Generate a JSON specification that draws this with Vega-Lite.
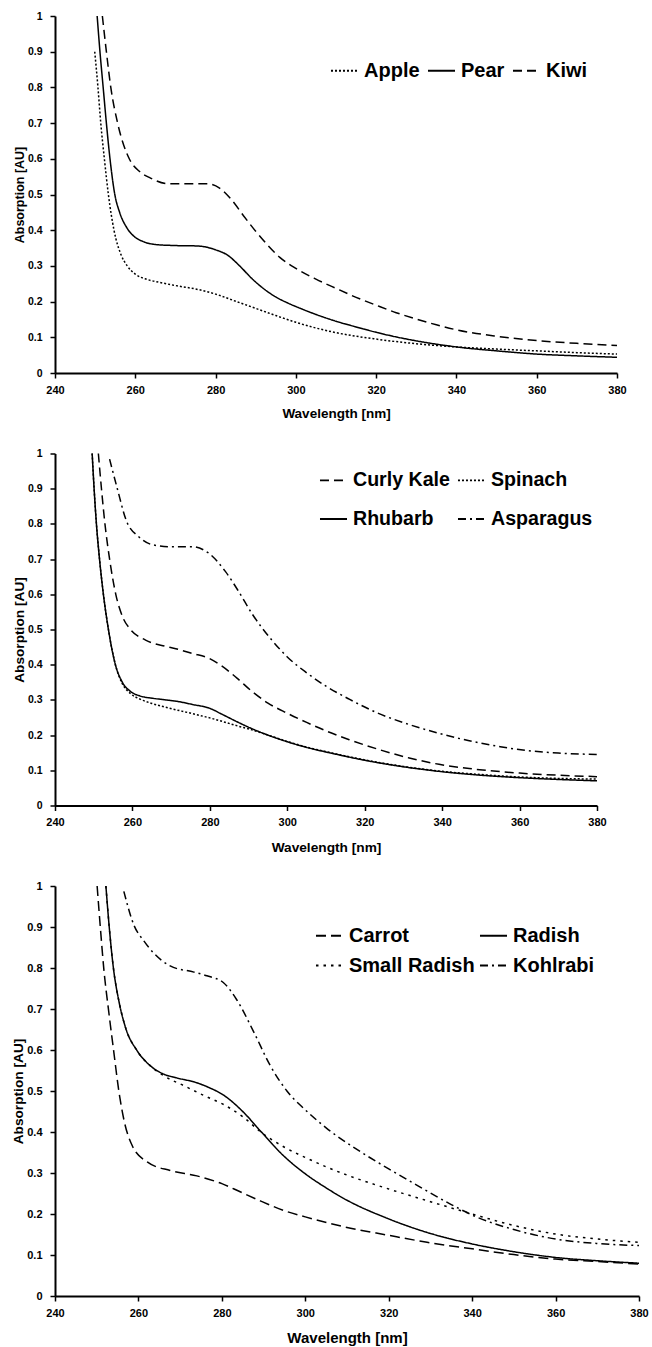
{
  "$schema": "https://vega.github.io/schema/vega-lite/v6.json",
  "background": "white",
  "padding": {"left": 11, "top": 11, "right": 5, "bottom": 2},
  "spacing": 80.5,
  "bounds": "flush",
  "resolve": {"scale": {"strokeDash": "independent"}, "legend": {"strokeDash": "independent"}},
  "config": {
    "view": {"stroke": null},
    "font": "Liberation Sans",
    "axis": {
      "grid": false,
      "domainColor": "black",
      "domainWidth": 2,
      "tickColor": "black",
      "tickWidth": 1.5,
      "tickSize": 5,
      "labelFont": "Liberation Sans",
      "labelFontWeight": "bold",
      "labelColor": "black",
      "labelFontSize": 11,
      "titleFont": "Liberation Sans",
      "titleFontWeight": "bold",
      "titleColor": "black"
    },
    "axisX": {"labelFlush": false, "labelPadding": 6, "titlePadding": 11},
    "axisY": {"labelPadding": 8, "titlePadding": 1},
    "legend": {
      "orient": "none",
      "symbolType": "stroke",
      "symbolSize": 730,
      "symbolStrokeWidth": 1.8,
      "symbolStrokeColor": "black",
      "labelFont": "Liberation Sans",
      "labelFontWeight": "bold",
      "labelFontSize": 20,
      "labelColor": "black",
      "labelOffset": 5,
      "labelLimit": 300
    }
  },
  "datasets": {
    "p1": [
      {"sample": "Apple", "wavelength": 249.9, "absorption": 0.9},
      {"sample": "Apple", "wavelength": 250.7, "absorption": 0.8},
      {"sample": "Apple", "wavelength": 251.4, "absorption": 0.7},
      {"sample": "Apple", "wavelength": 252.3, "absorption": 0.6},
      {"sample": "Apple", "wavelength": 253.3, "absorption": 0.5},
      {"sample": "Apple", "wavelength": 254.7, "absorption": 0.4},
      {"sample": "Apple", "wavelength": 256.5, "absorption": 0.33},
      {"sample": "Apple", "wavelength": 258, "absorption": 0.3},
      {"sample": "Apple", "wavelength": 260, "absorption": 0.277},
      {"sample": "Apple", "wavelength": 263, "absorption": 0.262},
      {"sample": "Apple", "wavelength": 266, "absorption": 0.254},
      {"sample": "Apple", "wavelength": 270, "absorption": 0.245},
      {"sample": "Apple", "wavelength": 276, "absorption": 0.233},
      {"sample": "Apple", "wavelength": 280, "absorption": 0.221},
      {"sample": "Apple", "wavelength": 285, "absorption": 0.201},
      {"sample": "Apple", "wavelength": 290, "absorption": 0.181},
      {"sample": "Apple", "wavelength": 295, "absorption": 0.161},
      {"sample": "Apple", "wavelength": 300, "absorption": 0.142},
      {"sample": "Apple", "wavelength": 305, "absorption": 0.126},
      {"sample": "Apple", "wavelength": 310, "absorption": 0.113},
      {"sample": "Apple", "wavelength": 320, "absorption": 0.095},
      {"sample": "Apple", "wavelength": 330, "absorption": 0.082},
      {"sample": "Apple", "wavelength": 340, "absorption": 0.073},
      {"sample": "Apple", "wavelength": 350, "absorption": 0.067},
      {"sample": "Apple", "wavelength": 360, "absorption": 0.062},
      {"sample": "Apple", "wavelength": 370, "absorption": 0.057},
      {"sample": "Apple", "wavelength": 380, "absorption": 0.053},
      {"sample": "Pear", "wavelength": 250.5, "absorption": 1.0},
      {"sample": "Pear", "wavelength": 251.2, "absorption": 0.9},
      {"sample": "Pear", "wavelength": 252, "absorption": 0.8},
      {"sample": "Pear", "wavelength": 252.8, "absorption": 0.7},
      {"sample": "Pear", "wavelength": 253.7, "absorption": 0.6},
      {"sample": "Pear", "wavelength": 254.9, "absorption": 0.5},
      {"sample": "Pear", "wavelength": 256.1, "absorption": 0.45},
      {"sample": "Pear", "wavelength": 258, "absorption": 0.405},
      {"sample": "Pear", "wavelength": 260, "absorption": 0.38},
      {"sample": "Pear", "wavelength": 262, "absorption": 0.368},
      {"sample": "Pear", "wavelength": 265, "absorption": 0.36},
      {"sample": "Pear", "wavelength": 270, "absorption": 0.357},
      {"sample": "Pear", "wavelength": 275, "absorption": 0.356},
      {"sample": "Pear", "wavelength": 278, "absorption": 0.352},
      {"sample": "Pear", "wavelength": 280, "absorption": 0.345},
      {"sample": "Pear", "wavelength": 283, "absorption": 0.33},
      {"sample": "Pear", "wavelength": 286, "absorption": 0.3},
      {"sample": "Pear", "wavelength": 289, "absorption": 0.265},
      {"sample": "Pear", "wavelength": 292, "absorption": 0.236},
      {"sample": "Pear", "wavelength": 295, "absorption": 0.213},
      {"sample": "Pear", "wavelength": 298, "absorption": 0.196},
      {"sample": "Pear", "wavelength": 302, "absorption": 0.177},
      {"sample": "Pear", "wavelength": 306, "absorption": 0.16},
      {"sample": "Pear", "wavelength": 310, "absorption": 0.145},
      {"sample": "Pear", "wavelength": 315, "absorption": 0.129},
      {"sample": "Pear", "wavelength": 320, "absorption": 0.114},
      {"sample": "Pear", "wavelength": 325, "absorption": 0.101},
      {"sample": "Pear", "wavelength": 330, "absorption": 0.09},
      {"sample": "Pear", "wavelength": 340, "absorption": 0.073},
      {"sample": "Pear", "wavelength": 350, "absorption": 0.062},
      {"sample": "Pear", "wavelength": 360, "absorption": 0.053},
      {"sample": "Pear", "wavelength": 370, "absorption": 0.048},
      {"sample": "Pear", "wavelength": 380, "absorption": 0.044},
      {"sample": "Kiwi", "wavelength": 251.8, "absorption": 1.0},
      {"sample": "Kiwi", "wavelength": 252.8, "absorption": 0.9},
      {"sample": "Kiwi", "wavelength": 253.9, "absorption": 0.8},
      {"sample": "Kiwi", "wavelength": 255.6, "absorption": 0.7},
      {"sample": "Kiwi", "wavelength": 258.5, "absorption": 0.6},
      {"sample": "Kiwi", "wavelength": 261, "absorption": 0.565},
      {"sample": "Kiwi", "wavelength": 263.8, "absorption": 0.546},
      {"sample": "Kiwi", "wavelength": 268.4, "absorption": 0.53},
      {"sample": "Kiwi", "wavelength": 273, "absorption": 0.53},
      {"sample": "Kiwi", "wavelength": 278, "absorption": 0.53},
      {"sample": "Kiwi", "wavelength": 281, "absorption": 0.518},
      {"sample": "Kiwi", "wavelength": 284, "absorption": 0.485},
      {"sample": "Kiwi", "wavelength": 287, "absorption": 0.44},
      {"sample": "Kiwi", "wavelength": 290, "absorption": 0.397},
      {"sample": "Kiwi", "wavelength": 293, "absorption": 0.358},
      {"sample": "Kiwi", "wavelength": 296, "absorption": 0.324},
      {"sample": "Kiwi", "wavelength": 300, "absorption": 0.293},
      {"sample": "Kiwi", "wavelength": 305, "absorption": 0.263},
      {"sample": "Kiwi", "wavelength": 310, "absorption": 0.237},
      {"sample": "Kiwi", "wavelength": 315, "absorption": 0.212},
      {"sample": "Kiwi", "wavelength": 320, "absorption": 0.19},
      {"sample": "Kiwi", "wavelength": 325, "absorption": 0.169},
      {"sample": "Kiwi", "wavelength": 330, "absorption": 0.151},
      {"sample": "Kiwi", "wavelength": 335, "absorption": 0.135},
      {"sample": "Kiwi", "wavelength": 340, "absorption": 0.121},
      {"sample": "Kiwi", "wavelength": 350, "absorption": 0.103},
      {"sample": "Kiwi", "wavelength": 360, "absorption": 0.091},
      {"sample": "Kiwi", "wavelength": 370, "absorption": 0.083},
      {"sample": "Kiwi", "wavelength": 380, "absorption": 0.077}
    ],
    "p2": [
      {"sample": "Rhubarb", "wavelength": 249.6, "absorption": 1.0},
      {"sample": "Rhubarb", "wavelength": 250.1, "absorption": 0.9},
      {"sample": "Rhubarb", "wavelength": 250.7, "absorption": 0.8},
      {"sample": "Rhubarb", "wavelength": 251.5, "absorption": 0.7},
      {"sample": "Rhubarb", "wavelength": 252.5, "absorption": 0.6},
      {"sample": "Rhubarb", "wavelength": 253.8, "absorption": 0.5},
      {"sample": "Rhubarb", "wavelength": 255.6, "absorption": 0.4},
      {"sample": "Rhubarb", "wavelength": 257.3, "absorption": 0.352},
      {"sample": "Rhubarb", "wavelength": 259.5, "absorption": 0.324},
      {"sample": "Rhubarb", "wavelength": 262, "absorption": 0.311},
      {"sample": "Rhubarb", "wavelength": 265, "absorption": 0.305},
      {"sample": "Rhubarb", "wavelength": 268.6, "absorption": 0.3},
      {"sample": "Rhubarb", "wavelength": 272, "absorption": 0.295},
      {"sample": "Rhubarb", "wavelength": 275.5, "absorption": 0.287},
      {"sample": "Rhubarb", "wavelength": 280, "absorption": 0.276},
      {"sample": "Rhubarb", "wavelength": 283, "absorption": 0.26},
      {"sample": "Rhubarb", "wavelength": 287, "absorption": 0.238},
      {"sample": "Rhubarb", "wavelength": 290.5, "absorption": 0.22},
      {"sample": "Rhubarb", "wavelength": 295, "absorption": 0.2},
      {"sample": "Rhubarb", "wavelength": 300, "absorption": 0.181},
      {"sample": "Rhubarb", "wavelength": 305, "absorption": 0.165},
      {"sample": "Rhubarb", "wavelength": 310.8, "absorption": 0.15},
      {"sample": "Rhubarb", "wavelength": 319.8, "absorption": 0.129},
      {"sample": "Rhubarb", "wavelength": 330, "absorption": 0.11},
      {"sample": "Rhubarb", "wavelength": 340, "absorption": 0.096},
      {"sample": "Rhubarb", "wavelength": 350, "absorption": 0.086},
      {"sample": "Rhubarb", "wavelength": 360, "absorption": 0.079},
      {"sample": "Rhubarb", "wavelength": 370, "absorption": 0.074},
      {"sample": "Rhubarb", "wavelength": 380, "absorption": 0.07},
      {"sample": "Spinach", "wavelength": 249.6, "absorption": 1.0},
      {"sample": "Spinach", "wavelength": 250.1, "absorption": 0.9},
      {"sample": "Spinach", "wavelength": 250.7, "absorption": 0.8},
      {"sample": "Spinach", "wavelength": 251.5, "absorption": 0.7},
      {"sample": "Spinach", "wavelength": 252.5, "absorption": 0.6},
      {"sample": "Spinach", "wavelength": 253.8, "absorption": 0.5},
      {"sample": "Spinach", "wavelength": 255.6, "absorption": 0.4},
      {"sample": "Spinach", "wavelength": 257.3, "absorption": 0.348},
      {"sample": "Spinach", "wavelength": 259.5, "absorption": 0.318},
      {"sample": "Spinach", "wavelength": 262, "absorption": 0.302},
      {"sample": "Spinach", "wavelength": 265, "absorption": 0.29},
      {"sample": "Spinach", "wavelength": 268.6, "absorption": 0.279},
      {"sample": "Spinach", "wavelength": 275.5, "absorption": 0.261},
      {"sample": "Spinach", "wavelength": 280.6, "absorption": 0.247},
      {"sample": "Spinach", "wavelength": 287.5, "absorption": 0.225},
      {"sample": "Spinach", "wavelength": 290.5, "absorption": 0.216},
      {"sample": "Spinach", "wavelength": 295, "absorption": 0.2},
      {"sample": "Spinach", "wavelength": 300, "absorption": 0.182},
      {"sample": "Spinach", "wavelength": 305, "absorption": 0.166},
      {"sample": "Spinach", "wavelength": 310.8, "absorption": 0.151},
      {"sample": "Spinach", "wavelength": 319.8, "absorption": 0.13},
      {"sample": "Spinach", "wavelength": 330, "absorption": 0.111},
      {"sample": "Spinach", "wavelength": 340, "absorption": 0.097},
      {"sample": "Spinach", "wavelength": 350, "absorption": 0.088},
      {"sample": "Spinach", "wavelength": 360, "absorption": 0.081},
      {"sample": "Spinach", "wavelength": 370, "absorption": 0.077},
      {"sample": "Spinach", "wavelength": 380, "absorption": 0.075},
      {"sample": "Curly Kale", "wavelength": 251.2, "absorption": 1.0},
      {"sample": "Curly Kale", "wavelength": 252, "absorption": 0.9},
      {"sample": "Curly Kale", "wavelength": 252.9, "absorption": 0.8},
      {"sample": "Curly Kale", "wavelength": 254.1, "absorption": 0.7},
      {"sample": "Curly Kale", "wavelength": 255.7, "absorption": 0.6},
      {"sample": "Curly Kale", "wavelength": 257.5, "absorption": 0.535},
      {"sample": "Curly Kale", "wavelength": 259.5, "absorption": 0.5},
      {"sample": "Curly Kale", "wavelength": 263.4, "absorption": 0.47},
      {"sample": "Curly Kale", "wavelength": 268.6, "absorption": 0.452},
      {"sample": "Curly Kale", "wavelength": 272, "absorption": 0.443},
      {"sample": "Curly Kale", "wavelength": 275.5, "absorption": 0.432},
      {"sample": "Curly Kale", "wavelength": 279.8, "absorption": 0.418},
      {"sample": "Curly Kale", "wavelength": 283, "absorption": 0.397},
      {"sample": "Curly Kale", "wavelength": 287, "absorption": 0.362},
      {"sample": "Curly Kale", "wavelength": 291, "absorption": 0.323},
      {"sample": "Curly Kale", "wavelength": 295, "absorption": 0.291},
      {"sample": "Curly Kale", "wavelength": 300, "absorption": 0.262},
      {"sample": "Curly Kale", "wavelength": 305, "absorption": 0.236},
      {"sample": "Curly Kale", "wavelength": 310, "absorption": 0.212},
      {"sample": "Curly Kale", "wavelength": 316, "absorption": 0.187},
      {"sample": "Curly Kale", "wavelength": 323.7, "absorption": 0.159},
      {"sample": "Curly Kale", "wavelength": 331.5, "absorption": 0.135},
      {"sample": "Curly Kale", "wavelength": 339.2, "absorption": 0.117},
      {"sample": "Curly Kale", "wavelength": 347, "absorption": 0.105},
      {"sample": "Curly Kale", "wavelength": 360, "absorption": 0.092},
      {"sample": "Curly Kale", "wavelength": 370, "absorption": 0.086},
      {"sample": "Curly Kale", "wavelength": 380, "absorption": 0.082},
      {"sample": "Asparagus", "wavelength": 254.1, "absorption": 0.984},
      {"sample": "Asparagus", "wavelength": 256.1, "absorption": 0.9},
      {"sample": "Asparagus", "wavelength": 258.4, "absorption": 0.81},
      {"sample": "Asparagus", "wavelength": 261.7, "absorption": 0.763},
      {"sample": "Asparagus", "wavelength": 265.1, "absorption": 0.741},
      {"sample": "Asparagus", "wavelength": 270.3, "absorption": 0.735},
      {"sample": "Asparagus", "wavelength": 275.5, "absorption": 0.735},
      {"sample": "Asparagus", "wavelength": 279.8, "absorption": 0.716},
      {"sample": "Asparagus", "wavelength": 284, "absorption": 0.665},
      {"sample": "Asparagus", "wavelength": 287.5, "absorption": 0.607},
      {"sample": "Asparagus", "wavelength": 291, "absorption": 0.543},
      {"sample": "Asparagus", "wavelength": 296, "absorption": 0.47},
      {"sample": "Asparagus", "wavelength": 300, "absorption": 0.422},
      {"sample": "Asparagus", "wavelength": 305, "absorption": 0.377},
      {"sample": "Asparagus", "wavelength": 310, "absorption": 0.339},
      {"sample": "Asparagus", "wavelength": 316, "absorption": 0.302},
      {"sample": "Asparagus", "wavelength": 323.7, "absorption": 0.261},
      {"sample": "Asparagus", "wavelength": 331.5, "absorption": 0.23},
      {"sample": "Asparagus", "wavelength": 339.2, "absorption": 0.205},
      {"sample": "Asparagus", "wavelength": 347, "absorption": 0.184},
      {"sample": "Asparagus", "wavelength": 355, "absorption": 0.167},
      {"sample": "Asparagus", "wavelength": 362, "absorption": 0.156},
      {"sample": "Asparagus", "wavelength": 370, "absorption": 0.149},
      {"sample": "Asparagus", "wavelength": 380, "absorption": 0.145}
    ],
    "p3": [
      {"sample": "Carrot", "wavelength": 250.1, "absorption": 1.0},
      {"sample": "Carrot", "wavelength": 250.9, "absorption": 0.895},
      {"sample": "Carrot", "wavelength": 251.7, "absorption": 0.798},
      {"sample": "Carrot", "wavelength": 252.9, "absorption": 0.692},
      {"sample": "Carrot", "wavelength": 254.1, "absorption": 0.595},
      {"sample": "Carrot", "wavelength": 255.3, "absorption": 0.5},
      {"sample": "Carrot", "wavelength": 256.6, "absorption": 0.426},
      {"sample": "Carrot", "wavelength": 258.5, "absorption": 0.367},
      {"sample": "Carrot", "wavelength": 262.1, "absorption": 0.327},
      {"sample": "Carrot", "wavelength": 267.6, "absorption": 0.306},
      {"sample": "Carrot", "wavelength": 274, "absorption": 0.293},
      {"sample": "Carrot", "wavelength": 280, "absorption": 0.274},
      {"sample": "Carrot", "wavelength": 284, "absorption": 0.256},
      {"sample": "Carrot", "wavelength": 289.2, "absorption": 0.232},
      {"sample": "Carrot", "wavelength": 295, "absorption": 0.208},
      {"sample": "Carrot", "wavelength": 300, "absorption": 0.193},
      {"sample": "Carrot", "wavelength": 309.2, "absorption": 0.169},
      {"sample": "Carrot", "wavelength": 320, "absorption": 0.148},
      {"sample": "Carrot", "wavelength": 329.2, "absorption": 0.131},
      {"sample": "Carrot", "wavelength": 340, "absorption": 0.115},
      {"sample": "Carrot", "wavelength": 350, "absorption": 0.101},
      {"sample": "Carrot", "wavelength": 360, "absorption": 0.09},
      {"sample": "Carrot", "wavelength": 370, "absorption": 0.084},
      {"sample": "Carrot", "wavelength": 380, "absorption": 0.078},
      {"sample": "Radish", "wavelength": 252.2, "absorption": 1.0},
      {"sample": "Radish", "wavelength": 253, "absorption": 0.9},
      {"sample": "Radish", "wavelength": 254, "absorption": 0.8},
      {"sample": "Radish", "wavelength": 255.3, "absorption": 0.72},
      {"sample": "Radish", "wavelength": 256.9, "absorption": 0.655},
      {"sample": "Radish", "wavelength": 259.7, "absorption": 0.598},
      {"sample": "Radish", "wavelength": 262.8, "absorption": 0.562},
      {"sample": "Radish", "wavelength": 266.1, "absorption": 0.541},
      {"sample": "Radish", "wavelength": 269.2, "absorption": 0.532},
      {"sample": "Radish", "wavelength": 274, "absorption": 0.52},
      {"sample": "Radish", "wavelength": 277, "absorption": 0.508},
      {"sample": "Radish", "wavelength": 280.4, "absorption": 0.49},
      {"sample": "Radish", "wavelength": 285.2, "absorption": 0.448},
      {"sample": "Radish", "wavelength": 289.2, "absorption": 0.403},
      {"sample": "Radish", "wavelength": 294.8, "absorption": 0.342},
      {"sample": "Radish", "wavelength": 300.4, "absorption": 0.295},
      {"sample": "Radish", "wavelength": 304.8, "absorption": 0.265},
      {"sample": "Radish", "wavelength": 309.2, "absorption": 0.238},
      {"sample": "Radish", "wavelength": 320, "absorption": 0.188},
      {"sample": "Radish", "wavelength": 329.2, "absorption": 0.155},
      {"sample": "Radish", "wavelength": 340, "absorption": 0.127},
      {"sample": "Radish", "wavelength": 350, "absorption": 0.108},
      {"sample": "Radish", "wavelength": 360, "absorption": 0.094},
      {"sample": "Radish", "wavelength": 370, "absorption": 0.086},
      {"sample": "Radish", "wavelength": 380, "absorption": 0.08},
      {"sample": "Small Radish", "wavelength": 252.2, "absorption": 1.0},
      {"sample": "Small Radish", "wavelength": 253, "absorption": 0.9},
      {"sample": "Small Radish", "wavelength": 254, "absorption": 0.8},
      {"sample": "Small Radish", "wavelength": 255.3, "absorption": 0.72},
      {"sample": "Small Radish", "wavelength": 256.9, "absorption": 0.655},
      {"sample": "Small Radish", "wavelength": 259.7, "absorption": 0.598},
      {"sample": "Small Radish", "wavelength": 262.8, "absorption": 0.562},
      {"sample": "Small Radish", "wavelength": 266.1, "absorption": 0.537},
      {"sample": "Small Radish", "wavelength": 270.9, "absorption": 0.513},
      {"sample": "Small Radish", "wavelength": 275.7, "absorption": 0.489},
      {"sample": "Small Radish", "wavelength": 280.4, "absorption": 0.467},
      {"sample": "Small Radish", "wavelength": 285.2, "absorption": 0.436},
      {"sample": "Small Radish", "wavelength": 289.2, "absorption": 0.401},
      {"sample": "Small Radish", "wavelength": 294.8, "absorption": 0.364},
      {"sample": "Small Radish", "wavelength": 300.4, "absorption": 0.336},
      {"sample": "Small Radish", "wavelength": 305, "absorption": 0.315},
      {"sample": "Small Radish", "wavelength": 310, "absorption": 0.295},
      {"sample": "Small Radish", "wavelength": 320, "absorption": 0.261},
      {"sample": "Small Radish", "wavelength": 330, "absorption": 0.23},
      {"sample": "Small Radish", "wavelength": 340, "absorption": 0.2},
      {"sample": "Small Radish", "wavelength": 350, "absorption": 0.172},
      {"sample": "Small Radish", "wavelength": 360, "absorption": 0.151},
      {"sample": "Small Radish", "wavelength": 370, "absorption": 0.139},
      {"sample": "Small Radish", "wavelength": 380, "absorption": 0.131},
      {"sample": "Kohlrabi", "wavelength": 256.5, "absorption": 0.987},
      {"sample": "Kohlrabi", "wavelength": 258.9, "absorption": 0.905},
      {"sample": "Kohlrabi", "wavelength": 261.3, "absorption": 0.866},
      {"sample": "Kohlrabi", "wavelength": 263.7, "absorption": 0.836},
      {"sample": "Kohlrabi", "wavelength": 267.6, "absorption": 0.805},
      {"sample": "Kohlrabi", "wavelength": 273.3, "absorption": 0.79},
      {"sample": "Kohlrabi", "wavelength": 276.4, "absorption": 0.781},
      {"sample": "Kohlrabi", "wavelength": 280.4, "absorption": 0.764},
      {"sample": "Kohlrabi", "wavelength": 283.6, "absorption": 0.722},
      {"sample": "Kohlrabi", "wavelength": 287.6, "absorption": 0.645},
      {"sample": "Kohlrabi", "wavelength": 291.6, "absorption": 0.562},
      {"sample": "Kohlrabi", "wavelength": 295.6, "absorption": 0.5},
      {"sample": "Kohlrabi", "wavelength": 300, "absorption": 0.454},
      {"sample": "Kohlrabi", "wavelength": 305, "absorption": 0.41},
      {"sample": "Kohlrabi", "wavelength": 312, "absorption": 0.36},
      {"sample": "Kohlrabi", "wavelength": 320, "absorption": 0.31},
      {"sample": "Kohlrabi", "wavelength": 328, "absorption": 0.263},
      {"sample": "Kohlrabi", "wavelength": 335, "absorption": 0.223},
      {"sample": "Kohlrabi", "wavelength": 341, "absorption": 0.193},
      {"sample": "Kohlrabi", "wavelength": 350, "absorption": 0.162},
      {"sample": "Kohlrabi", "wavelength": 360, "absorption": 0.139},
      {"sample": "Kohlrabi", "wavelength": 370, "absorption": 0.128},
      {"sample": "Kohlrabi", "wavelength": 380, "absorption": 0.123}
    ]
  },
  "vconcat": [
    {
      "width": 562,
      "height": 357,
      "data": {"name": "p1"},
      "mark": {"type": "line", "interpolate": "monotone", "color": "black", "strokeWidth": 1.5},
      "encoding": {
        "x": {"field": "wavelength", "type": "quantitative", "scale": {"domain": [240, 380], "nice": false, "zero": false},
              "axis": {"title": "Wavelength [nm]", "values": [240, 260, 280, 300, 320, 340, 360, 380], "titleFontSize": 13.5, "titlePadding": 11}},
        "y": {"field": "absorption", "type": "quantitative", "scale": {"domain": [0, 1], "nice": false},
              "axis": {"title": "Absorption [AU]", "values": [0, 0.1, 0.2, 0.3, 0.4, 0.5, 0.6, 0.7, 0.8, 0.9, 1], "format": ".1~f", "titleFontSize": 12.5, "labelFontSize": 10.5}},
        "strokeDash": {"field": "sample", "type": "nominal",
              "scale": {"domain": ["Apple", "Pear", "Kiwi"], "range": [[2, 2], [1, 0], [9, 5]]},
              "legend": {"title": null, "columns": 3, "columnPadding": 4, "legendX": 275, "legendY": 40}}
      }
    },
    {
      "width": 542,
      "height": 352,
      "data": {"name": "p2"},
      "mark": {"type": "line", "interpolate": "monotone", "color": "black", "strokeWidth": 1.5},
      "encoding": {
        "x": {"field": "wavelength", "type": "quantitative", "scale": {"domain": [240, 380], "nice": false, "zero": false},
              "axis": {"title": "Wavelength [nm]", "values": [240, 260, 280, 300, 320, 340, 360, 380], "titleFontSize": 13.7, "titlePadding": 13}},
        "y": {"field": "absorption", "type": "quantitative", "scale": {"domain": [0, 1], "nice": false},
              "axis": {"title": "Absorption [AU]", "values": [0, 0.1, 0.2, 0.3, 0.4, 0.5, 0.6, 0.7, 0.8, 0.9, 1], "format": ".1~f", "titleFontSize": 13.7, "labelFontSize": 10.5}},
        "strokeDash": {"field": "sample", "type": "nominal",
              "scale": {"domain": ["Curly Kale", "Rhubarb", "Spinach", "Asparagus"], "range": [[9, 5], [1, 0], [2, 2], [8, 4, 2, 4]]},
              "legend": {"title": null, "columns": 2, "columnPadding": 4, "rowPadding": 14, "legendX": 264, "legendY": 12, "labelFontSize": 19.6}}
      }
    },
    {
      "width": 584,
      "height": 410,
      "data": {"name": "p3"},
      "mark": {"type": "line", "interpolate": "monotone", "color": "black", "strokeWidth": 1.5},
      "encoding": {
        "x": {"field": "wavelength", "type": "quantitative", "scale": {"domain": [240, 380], "nice": false, "zero": false},
              "axis": {"title": "Wavelength [nm]", "values": [240, 260, 280, 300, 320, 340, 360, 380], "titleFontSize": 15, "titlePadding": 12}},
        "y": {"field": "absorption", "type": "quantitative", "scale": {"domain": [0, 1], "nice": false},
              "axis": {"title": "Absorption [AU]", "values": [0, 0.1, 0.2, 0.3, 0.4, 0.5, 0.6, 0.7, 0.8, 0.9, 1], "format": ".1~f", "titleFontSize": 13.7, "labelFontSize": 11}},
        "strokeDash": {"field": "sample", "type": "nominal",
              "scale": {"domain": ["Carrot", "Small Radish", "Radish", "Kohlrabi"], "range": [[10, 5], [2.5, 5], [1, 0], [8, 4, 2, 4]]},
              "legend": {"title": null, "columns": 2, "columnPadding": 1, "rowPadding": 5, "legendX": 260, "legendY": 35}}
      }
    }
  ]
}
